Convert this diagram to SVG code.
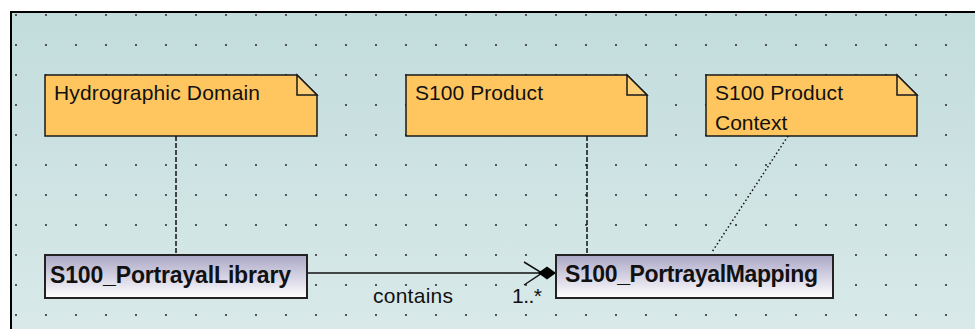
<svg xmlns="http://www.w3.org/2000/svg" width="975" height="329" viewBox="0 0 975 329">
  <defs>
    <linearGradient id="bg" x1="0" y1="0" x2="0" y2="1">
      <stop offset="0" stop-color="#c2dcdc"/>
      <stop offset="1" stop-color="#d9e9e9"/>
    </linearGradient>
    <linearGradient id="cls" x1="0" y1="0" x2="0" y2="1">
      <stop offset="0" stop-color="#aaa6c6"/>
      <stop offset="1" stop-color="#ffffff"/>
    </linearGradient>
    <pattern id="grid" x="0" y="0" width="30" height="30" patternUnits="userSpaceOnUse">
      <rect x="15" y="14" width="2" height="2" fill="#555"/>
    </pattern>
    <style>
      .note { fill: #ffc65f; stroke: #1a1a1a; stroke-width: 1.5; }
      .fold { fill: #ffcf78; stroke: #1a1a1a; stroke-width: 1.5; }
      .cls { fill: url(#cls); stroke: #222; stroke-width: 2; }
      .t { font-family: "Liberation Sans", Arial, sans-serif; font-size: 21px; fill: #111; }
      .b { font-family: "Liberation Sans", Arial, sans-serif; font-size: 23px; font-weight: bold; fill: #111; }
      .dash { stroke: #111; stroke-width: 1.5; stroke-dasharray: 5 2; fill: none; }
      .dot { stroke: #111; stroke-width: 1.5; stroke-dasharray: 1.5 2.5; fill: none; }
    </style>
  </defs>
  <rect x="0" y="0" width="975" height="329" fill="#ffffff"/>
  <rect x="10" y="12" width="965" height="317" fill="url(#bg)"/>
  <rect x="10" y="12" width="965" height="317" fill="url(#grid)"/>
  <line x1="10" y1="12" x2="975" y2="12" stroke="#000" stroke-width="2"/>
  <line x1="11" y1="12" x2="11" y2="329" stroke="#000" stroke-width="2"/>

  <g id="connectors">
    <line class="dash" x1="176" y1="136" x2="176" y2="255"/>
    <line class="dash" x1="587" y1="136" x2="587" y2="255"/>
    <line class="dot" x1="788" y1="136" x2="712" y2="252"/>
    <line x1="307" y1="273" x2="540" y2="273" stroke="#111" stroke-width="1.5"/>
    <polyline points="524,262 542,273 524,285" fill="none" stroke="#111" stroke-width="1.5"/>
    <polygon points="538,273 547,266.5 556,273 547,279.5" fill="#000"/>
    <text class="t" x="373" y="303" textLength="80">contains</text>
    <text class="t" x="512" y="303" textLength="30">1..*</text>
  </g>

  <g id="note-hydrographic">
    <path class="note" d="M45,75 H297 L317,95 V136 H45 Z"/>
    <path class="fold" d="M297,75 V95 H317 Z"/>
    <text class="t" x="54" y="100" textLength="206">Hydrographic Domain</text>
  </g>

  <g id="note-product">
    <path class="note" d="M406,75 H627 L647,95 V136 H406 Z"/>
    <path class="fold" d="M627,75 V95 H647 Z"/>
    <text class="t" x="415" y="100" textLength="128">S100 Product</text>
  </g>

  <g id="note-context">
    <path class="note" d="M706,75 H897 L917,95 V136 H706 Z"/>
    <path class="fold" d="M897,75 V95 H917 Z"/>
    <text class="t" x="715" y="100" textLength="128">S100 Product</text>
    <text class="t" x="715" y="130">Context</text>
  </g>

  <g id="class-library">
    <rect class="cls" x="45" y="255" width="262" height="43"/>
    <text class="b" x="50" y="283" textLength="241">S100_PortrayalLibrary</text>
  </g>

  <g id="class-mapping">
    <rect class="cls" x="556" y="255" width="277" height="43"/>
    <text class="b" x="565" y="282" textLength="253">S100_PortrayalMapping</text>
  </g>
</svg>
